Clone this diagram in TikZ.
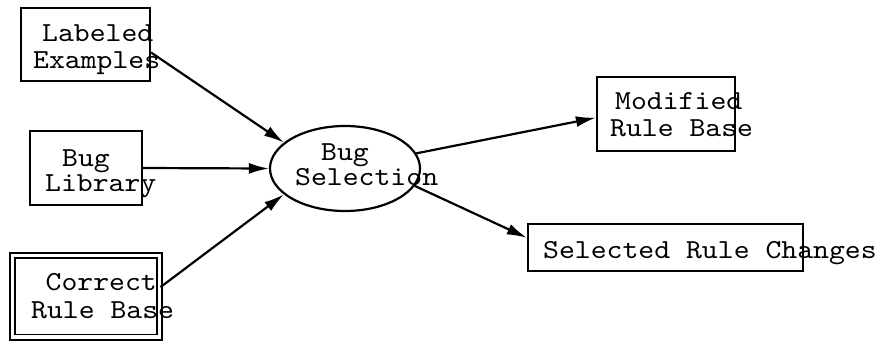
\documentclass[tikz,border=0pt]{standalone}
\usepackage{fontspec}
\newfontfamily\courfont[FakeStretch=1.1]{lmmono10-regular.otf}
\usetikzlibrary{shapes.geometric,arrows.meta}
\begin{document}
\begin{tikzpicture}[x=1pt,y=-1pt,
  box/.style={draw, line width=2.2pt, rectangle, inner sep=0pt},
  lbl/.style={font=\courfont\fontsize{27.5}{27.5}\selectfont, anchor=base west, inner sep=0pt},
  flow/.style={line width=2.2pt, -{Latex[length=20pt,width=11pt]}}]
\useasboundingbox (0,0) rectangle (882,341);

% input boxes
\node[box, minimum width=129pt, minimum height=73pt] (le) at (85.5,44.5) {};
\node[box, minimum width=112pt, minimum height=74pt] (bl) at (86,168) {};
\node[box, double, line width=1.9pt, double distance=3.2pt,
      minimum width=147pt, minimum height=81.5pt] (cr) at (86,296.25) {};

% central process
\node[draw, ellipse, line width=2.2pt, inner sep=0pt,
      minimum width=150pt, minimum height=85pt] (bs) at (345,168.5) {};

% output boxes
\node[box, minimum width=138pt, minimum height=74pt] (mr) at (666,114) {};
\node[box, minimum width=275pt, minimum height=47pt] (sr) at (665.5,247.5) {};

% labels
\node[lbl] (le1) at (42,41) {Labeled};
\node[lbl] (le2) at (33,68) {Examples};
\node[lbl] (bl1) at (62,166) {Bug};
\node[lbl] (bl2) at (45,191) {Library};
\node[lbl] (cr1) at (45.5,290) {Correct};
\node[lbl] (cr2) at (31,318) {Rule Base};
\node[lbl] (bs1) at (321,160) {Bug};
\node[lbl] (bs2) at (295,185) {Selection};
\node[lbl] (mr1) at (615,109) {Modified};
\node[lbl] (mr2) at (610,136.7) {Rule Base};
\node[lbl] (sr1) at (543,258) {Selected Rule Changes};

% connectors
\draw[flow] (le.-7.4) -- (bs.157.1);
\draw[flow] (bl.east) -- (bs.west);
\draw[flow] (cr.7.2) -- (bs.203.3);
\draw[flow] (bs.12.1) -- (mr.183.3);
\draw[flow] (bs.-14.4) -- (sr.176.1);
\end{tikzpicture}
\end{document}
